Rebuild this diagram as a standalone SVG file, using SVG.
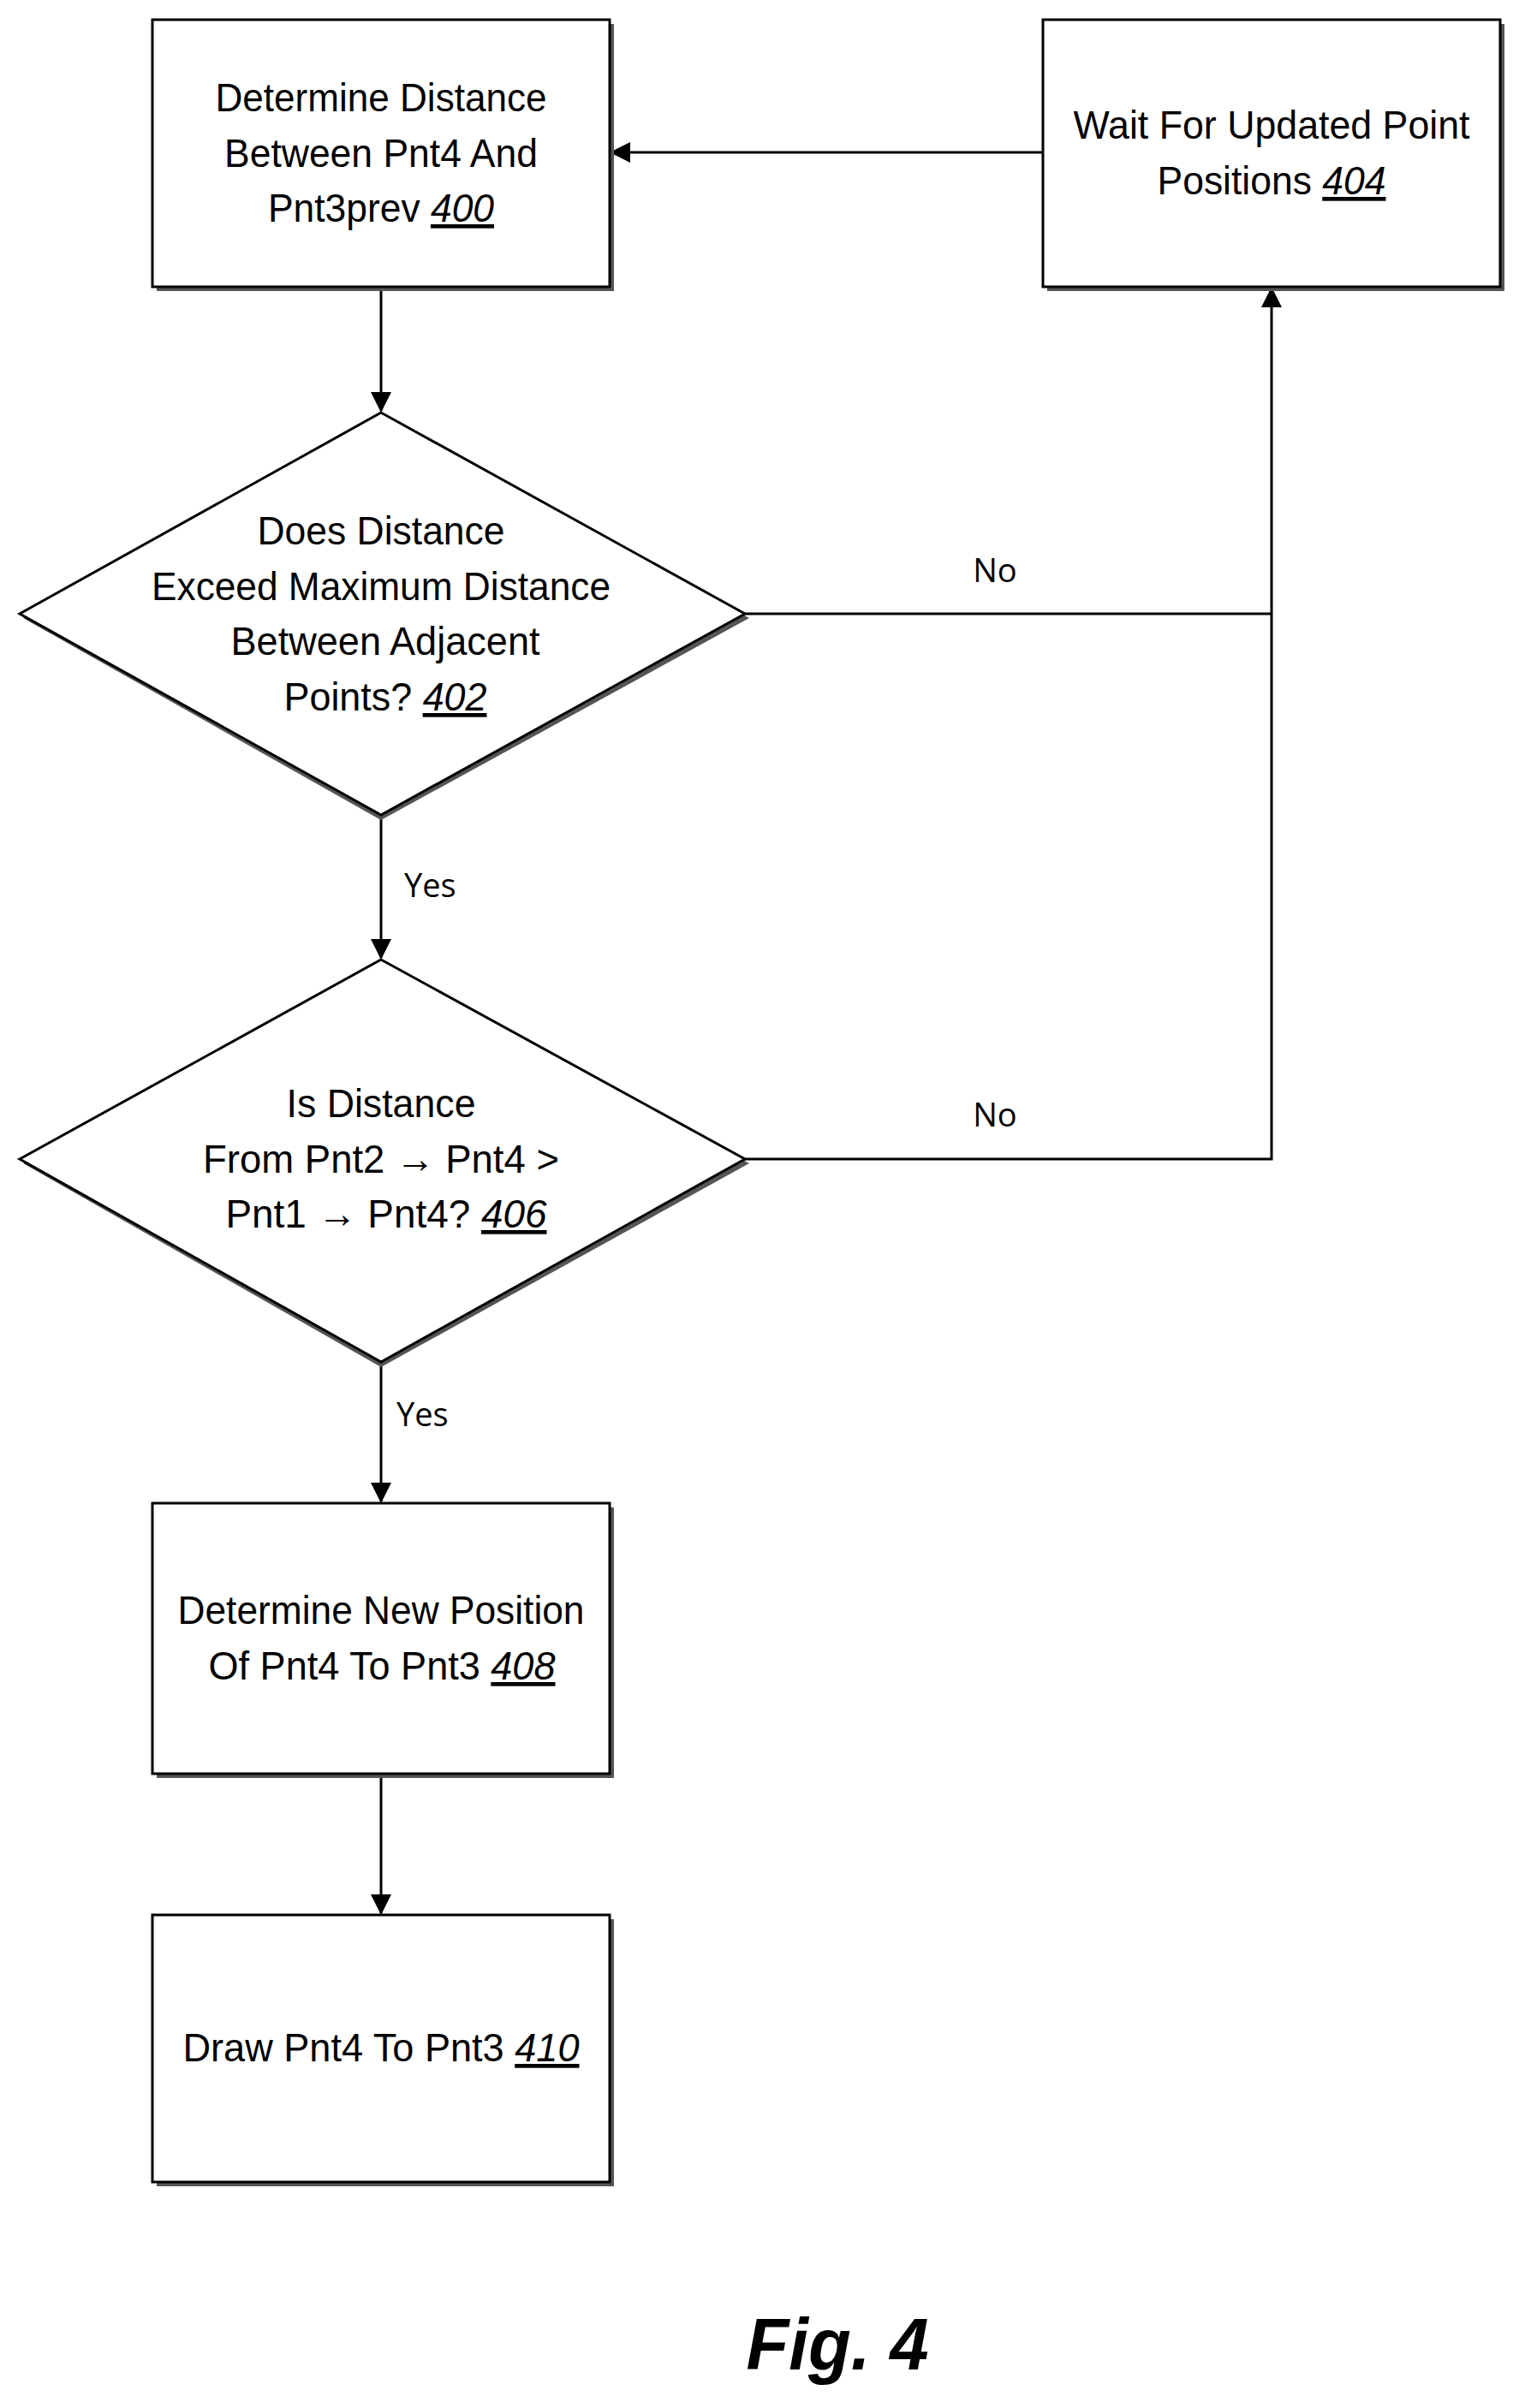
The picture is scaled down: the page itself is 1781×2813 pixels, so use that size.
<svg xmlns="http://www.w3.org/2000/svg" width="1781" height="2813" viewBox="0 0 1781 2813">
<style>
.box{fill:#fff;stroke:#000;stroke-width:3}
.sh{fill:#555;stroke:none}
.t{font-family:"Liberation Sans",Arial,sans-serif;font-size:47px;text-anchor:middle;fill:#000}
.n{font-style:italic;text-decoration:underline}
.ar{font-family:"DejaVu Sans",sans-serif}
.lbl{font-family:"Open Sans","Noto Sans",sans-serif;font-size:38px;fill:#000}
.c{stroke:#000;stroke-width:3;fill:none}
</style>
<defs><marker id="b" markerWidth="24" markerHeight="24" refX="22" refY="12" orient="auto" markerUnits="userSpaceOnUse"><path d="M0,0 L24,12 L0,24 z" fill="#000"/></marker></defs>
<rect width="1781" height="2813" fill="#fff"/>
<g id="connectors">
<line class="c" x1="445" y1="335" x2="445" y2="480" marker-end="url(#b)"/>
<line class="c" x1="445" y1="952" x2="445" y2="1119" marker-end="url(#b)"/>
<line class="c" x1="445" y1="1591" x2="445" y2="1754" marker-end="url(#b)"/>
<line class="c" x1="445" y1="2072" x2="445" y2="2235" marker-end="url(#b)"/>
<polyline class="c" points="870,1354 1485,1354 1485,337" marker-end="url(#b)"/>
<line class="c" x1="870" y1="717" x2="1485" y2="717"/>
<line class="c" x1="1218" y1="178" x2="714" y2="178" marker-end="url(#b)"/>
<text class="lbl" x="1162" y="680" text-anchor="middle">No</text>
<text class="lbl" x="1162" y="1316" text-anchor="middle">No</text>
<text class="lbl" x="472" y="1048">Yes</text>
<text class="lbl" x="463" y="1666">Yes</text>
</g>
<g id="n400"><rect class="sh" x="183" y="28" width="534" height="312"/><rect class="box" x="178" y="23" width="534" height="312"/>
<text class="t" x="445" y="130" textLength="387" lengthAdjust="spacingAndGlyphs">Determine Distance</text>
<text class="t" x="445" y="195" textLength="366" lengthAdjust="spacingAndGlyphs">Between Pnt4 And</text>
<text class="t" x="445" y="259" textLength="264" lengthAdjust="spacingAndGlyphs">Pnt3prev <tspan class="n">400</tspan></text></g>
<g id="n404"><rect class="sh" x="1223" y="28" width="534" height="312"/><rect class="box" x="1218" y="23" width="534" height="312"/>
<text class="t" x="1485" y="162" textLength="463" lengthAdjust="spacingAndGlyphs">Wait For Updated Point</text>
<text class="t" x="1485" y="227" textLength="267" lengthAdjust="spacingAndGlyphs">Positions <tspan class="n">404</tspan></text></g>
<g id="n402"><polygon class="sh" points="445,487 875,722 445,958 27,722"/><polygon class="box" points="445,482 870,717 445,952 23,717"/>
<text class="t" x="445" y="636" textLength="289" lengthAdjust="spacingAndGlyphs">Does Distance</text>
<text class="t" x="445" y="701" textLength="536" lengthAdjust="spacingAndGlyphs">Exceed Maximum Distance</text>
<text class="t" x="450" y="765" textLength="361" lengthAdjust="spacingAndGlyphs">Between Adjacent</text>
<text class="t" x="450" y="830" textLength="237" lengthAdjust="spacingAndGlyphs">Points? <tspan class="n">402</tspan></text></g>
<g id="n406"><polygon class="sh" points="445,1126 875,1359 445,1597 27,1359"/><polygon class="box" points="445,1121 870,1354 445,1591 23,1354"/>
<text class="t" x="445" y="1305" textLength="221" lengthAdjust="spacingAndGlyphs">Is Distance</text>
<text class="t" x="445" y="1370" textLength="416" lengthAdjust="spacingAndGlyphs">From Pnt2 → Pnt4 &gt;</text>
<text class="t" x="451" y="1434" textLength="375" lengthAdjust="spacingAndGlyphs">Pnt1 → Pnt4? <tspan class="n">406</tspan></text></g>
<g id="n408"><rect class="sh" x="183" y="1761" width="534" height="316"/><rect class="box" x="178" y="1756" width="534" height="316"/>
<text class="t" x="445" y="1897" textLength="475" lengthAdjust="spacingAndGlyphs">Determine New Position</text>
<text class="t" x="446" y="1962" textLength="405" lengthAdjust="spacingAndGlyphs">Of Pnt4 To Pnt3 <tspan class="n">408</tspan></text></g>
<g id="n410"><rect class="sh" x="183" y="2242" width="534" height="312"/><rect class="box" x="178" y="2237" width="534" height="312"/>
<text class="t" x="445" y="2408" textLength="463" lengthAdjust="spacingAndGlyphs">Draw Pnt4 To Pnt3 <tspan class="n">410</tspan></text></g>
<text x="978" y="2768" font-family="Liberation Sans,Arial,sans-serif" font-size="86" font-weight="bold" font-style="italic" text-anchor="middle" textLength="213" lengthAdjust="spacingAndGlyphs">Fig. 4</text>
</svg>
